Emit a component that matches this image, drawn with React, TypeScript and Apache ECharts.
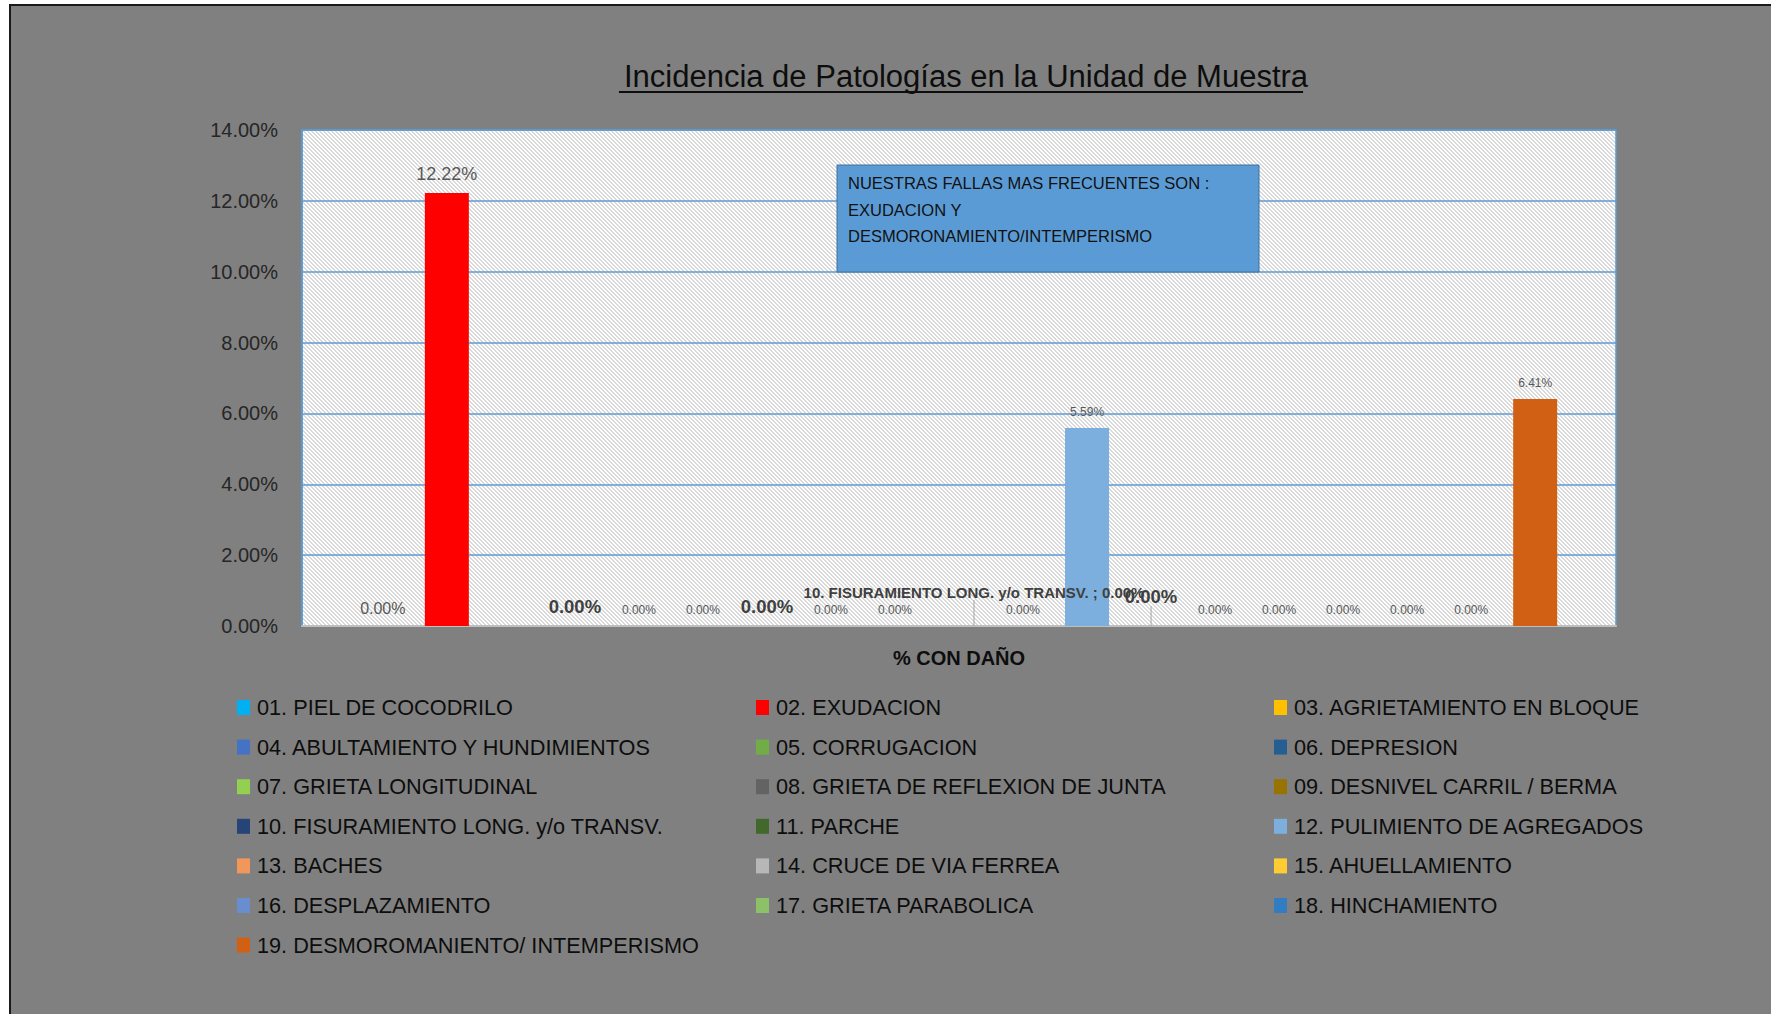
import React, { useEffect, useRef } from 'react';
import * as echarts from 'echarts';

const categories = ['% CON DAÑO'];
const seriesNames = [
  '01. PIEL DE COCODRILO',
  '02. EXUDACION',
  '03. AGRIETAMIENTO EN BLOQUE',
  '04. ABULTAMIENTO Y HUNDIMIENTOS',
  '05. CORRUGACION',
  '06. DEPRESION',
  '07. GRIETA LONGITUDINAL',
  '08. GRIETA DE REFLEXION DE JUNTA',
  '09. DESNIVEL CARRIL / BERMA',
  '10. FISURAMIENTO LONG. y/o TRANSV.',
  '11. PARCHE',
  '12. PULIMIENTO DE AGREGADOS',
  '13. BACHES',
  '14. CRUCE DE VIA FERREA',
  '15. AHUELLAMIENTO',
  '16. DESPLAZAMIENTO',
  '17. GRIETA PARABOLICA',
  '18. HINCHAMIENTO',
  '19. DESMOROMANIENTO/ INTEMPERISMO',
];
const seriesValues = [0, 12.22, 0, 0, 0, 0, 0, 0, 0, 0, 0, 5.59, 0, 0, 0, 0, 0, 0, 6.41];
const seriesColors = [
  '#00B0F0', '#FF0000', '#FFC000', '#4472C4', '#70AD47', '#255E91', '#92D050',
  '#636363', '#997300', '#264478', '#43682B', '#7CAFDD', '#F1975A', '#B7B7B7',
  '#FFCD33', '#698ED0', '#8CC168', '#327DC2', '#D26014',
];
const yMin = 0;
const yMax = 14;
const yInterval = 2;
const titleText = 'Incidencia de Patologías en la Unidad de Muestra';
const noteLines = ['NUESTRAS FALLAS MAS FRECUENTES SON :', 'EXUDACION Y', 'DESMORONAMIENTO/INTEMPERISMO'];

const FONT = '"Liberation Sans", Arial, sans-serif';

// label look per series index (style only)
type LS = { show?: boolean; size: number; bold?: boolean; color: string; withName?: boolean; dx?: number; dy?: number; line?: boolean };
const labelLook: Record<number, LS> = {
  0: { size: 16, color: '#595959' },
  1: { size: 18, color: '#595959' },
  2: { show: false, size: 12, color: '#595959' },
  3: { size: 18.5, bold: true, color: '#404040' },
  6: { size: 18.5, bold: true, color: '#404040' },
  9: { size: 15, bold: true, color: '#404040', withName: true, dx: 15, dy: -16, line: true },
  12: { size: 18.5, bold: true, color: '#404040', dy: -10, line: true },
};
const defaultLook: LS = { size: 12, color: '#595959' };

export default function App() {
  const ref = useRef<HTMLDivElement>(null);
  useEffect(() => {
    if (!ref.current) return;
    const chart = echarts.init(ref.current, undefined, { renderer: 'svg' });

    // hatch pattern
    const pc = document.createElement('canvas');
    pc.width = 8; pc.height = 8;
    const pctx = pc.getContext('2d')!;
    pctx.fillStyle = '#FFFFFF';
    pctx.fillRect(0, 0, 8, 8);
    pctx.fillStyle = '#D9D9D9';
    for (let y = 0; y < 8; y++) for (let x = 0; x < 8; x++) {
      if ((((x - y) % 4) + 4) % 4 < 2) pctx.fillRect(x, y, 1, 1);
    }

    const mctx = document.createElement('canvas').getContext('2d')!;
    const titleSize = 31;
    mctx.font = `${titleSize}px "Liberation Sans"`;
    const tw = mctx.measureText(titleText).width;
    const titleCx = 961;

    const gridL = 302, gridT = 130, gridW = 1314, gridH = 496;

    const series = seriesNames.map((name, i) => {
      const lk = labelLook[i] || defaultLook;
      const s: any = {
        name,
        type: 'bar',
        data: [seriesValues[i]],
        barWidth: 44,
        barGap: '45.5%',
        itemStyle: { color: seriesColors[i] },
        label: {
          show: lk.show !== false,
          position: 'top',
          distance: 10,
          fontFamily: FONT,
          fontSize: lk.size,
          fontWeight: lk.bold ? 'bold' : 'normal',
          color: lk.color,
          formatter: (p: any) =>
            lk.withName ? `${p.seriesName} ; ${Number(p.value).toFixed(2)}%` : `${Number(p.value).toFixed(2)}%`,
        },
      };
      if (lk.dx !== undefined || lk.dy !== undefined) {
        s.labelLayout = { dx: lk.dx || 0, dy: lk.dy || 0 };
      }
      if (lk.line) {
        s.labelLine = { show: true, lineStyle: { color: '#A6A6A6', width: 1 } };
      }
      return s;
    });

    const colX = [237, 756, 1274];
    const legends = colX.map((x, c) => ({
      orient: 'vertical',
      left: x,
      top: 696.5,
      padding: 0,
      itemWidth: 13,
      itemHeight: 15,
      itemGap: 17.6,
      icon: 'rect',
      selectedMode: false,
      data: seriesNames.filter((_, i) => i % 3 === c),
      textStyle: { fontFamily: FONT, fontSize: 21.7, color: '#0D0D0D', lineHeight: 22, padding: [0, 0, 0, 2] },
    }));

    chart.setOption({
      animation: false,
      title: {
        text: titleText,
        left: titleCx - tw / 2,
        top: 56,
        textStyle: { fontFamily: FONT, fontSize: titleSize, fontWeight: 'normal', color: '#0D0D0D' },
      },
      legend: legends,
      grid: {
        left: gridL, top: gridT, width: gridW, height: gridH,
        show: true,
        backgroundColor: { image: pc, repeat: 'repeat' },
        borderColor: '#5B9BD5',
        borderWidth: 1.5,
        containLabel: false,
      },
      xAxis: {
        type: 'category',
        data: categories,
        name: categories[0],
        nameLocation: 'middle',
        nameGap: 22,
        nameTextStyle: { fontFamily: FONT, fontSize: 20, fontWeight: 'bold', color: '#0D0D0D' },
        axisLabel: { show: false },
        axisTick: { show: false },
        axisLine: { lineStyle: { color: '#BFBFBF', width: 2 } },
      },
      yAxis: {
        type: 'value',
        min: yMin,
        max: yMax,
        interval: yInterval,
        axisLine: { show: true, lineStyle: { color: '#5B9BD5', width: 1.5 } },
        axisTick: { show: false },
        splitLine: { lineStyle: { color: '#5B9BD5', width: 1.5 } },
        axisLabel: {
          margin: 24,
          fontFamily: FONT,
          fontSize: 20,
          color: '#262626',
          formatter: (v: number) => `${v.toFixed(2)}%`,
        },
      },
      series,
      graphic: [
        {
          type: 'rect',
          z: -100,
          silent: true,
          shape: { x: 10, y: 5, width: 1800, height: 1100 },
          style: { fill: '#808080', stroke: '#1A1A1A', lineWidth: 2 },
        },
        {
          type: 'line',
          z: 10,
          silent: true,
          shape: { x1: titleCx - tw / 2, y1: 92, x2: titleCx + tw / 2, y2: 92 },
          style: { stroke: '#0D0D0D', lineWidth: 2 },
        },
        {
          type: 'rect',
          z: 10,
          silent: true,
          shape: { x: 837, y: 165, width: 422, height: 107 },
          style: { fill: '#5B9BD5', stroke: '#41719C', lineWidth: 1 },
        },
        {
          type: 'text',
          z: 11,
          silent: true,
          x: 848,
          y: 170,
          style: {
            text: noteLines.join('\n'),
            fontFamily: FONT,
            fontSize: 16.5,
            lineHeight: 26.5,
            fill: '#111111',
          },
        },
      ],
    });
    return () => chart.dispose();
  }, []);
  return (
    <div
      ref={ref}
      style={{ position: 'absolute', left: 0, top: 0, width: 1771, height: 1014, background: '#FFFFFF' }}
    />
  );
}
